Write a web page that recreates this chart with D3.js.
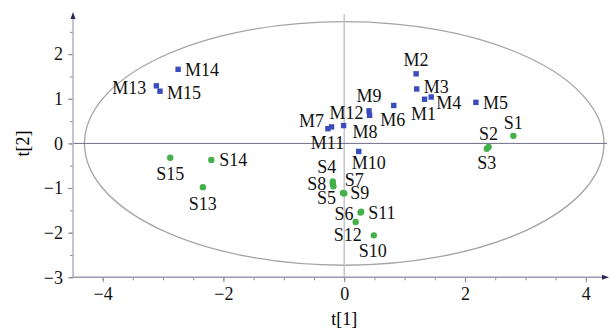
<!DOCTYPE html>
<html>
<head>
    <meta charset="utf-8">
    <script src="https://d3js.org/d3.v7.min.js"></script>
    <style>
        body { margin: 0; background: #fff; }
        svg text { font-family: "Liberation Serif", "DejaVu Serif", "Times New Roman", Times, serif; }
    </style>
</head>
<body>
    <div id="chart"></div>
    <script>
        // score values
        var mNames = ["M1", "M2", "M3", "M4", "M5", "M6", "M7", "M8", "M9", "M10", "M11", "M12", "M13", "M14", "M15"];
        var mT1 = [1.33, 1.19, 1.20, 1.44, 2.18, 0.82, -0.27, -0.01, 0.41, 0.24, -0.21, 0.42, -3.11, -2.75, -3.05];
        var mT2 = [0.99, 1.56, 1.22, 1.04, 0.92, 0.85, 0.33, 0.40, 0.73, -0.18, 0.37, 0.63, 1.29, 1.66, 1.17];

        var sNames = ["S1", "S2", "S3", "S4", "S5", "S6", "S7", "S8", "S9", "S10", "S11", "S12", "S13", "S14", "S15"];
        var sT1 = [2.80, 2.39, 2.36, -0.19, -0.02, 0.27, -0.19, -0.18, 0.00, 0.49, 0.28, 0.19, -2.34, -2.20, -2.88];
        var sT2 = [0.17, -0.08, -0.12, -0.85, -1.11, -1.55, -0.90, -0.96, -1.12, -2.06, -1.53, -1.76, -0.98, -0.37, -0.32];

        // Hotelling ellipse half axes
        var ellipseT1 = 4.3, ellipseT2 = 2.73;

        var xMajor = [-4, -2, 0, 2, 4];
        var yMajor = [-3, -2, -1, 0, 1, 2];

        var FONT = "'Liberation Serif', 'DejaVu Serif', 'Times New Roman', serif";

        // label placement: [anchor, dx, dy]
        var labelPos = {
            M1: ["middle", -1, 21], M2: ["middle", 0, -8], M3: ["start", 7, 4], M4: ["start", 5, 12],
            M5: ["start", 7, 7], M6: ["middle", -1, 21], M7: ["end", -4, -2], M8: ["start", 9, 12],
            M9: ["middle", 0, -9], M10: ["middle", 10, 18], M11: ["middle", -4, 22], M12: ["end", -6, 4],
            M13: ["end", -10, 8], M14: ["start", 7, 7], M15: ["start", 7, 8],
            S1: ["middle", 0, -7], S2: ["middle", 0, -7], S3: ["middle", 0, 20], S4: ["middle", -6, -8],
            S5: ["end", -7, 11], S6: ["end", -7, 7], S7: ["start", 12, 2], S8: ["end", -7, 4],
            S9: ["start", 6, 6], S10: ["middle", -1, 22], S11: ["start", 7, 7], S12: ["middle", -8, 19],
            S13: ["middle", 0, 23], S14: ["start", 8, 6], S15: ["middle", 0, 22]
        };

        var W = 610, H = 331;
        var svg = d3.select("#chart").append("svg")
            .attr("width", W).attr("height", H);

        var x = d3.scaleLinear().domain([-4.49, 4.35]).range([73, 607]);
        var y = d3.scaleLinear().domain([-3, 2.9]).range([277.3, 14]);

        // ellipse
        svg.append("ellipse")
            .attr("cx", x(0)).attr("cy", y(0))
            .attr("rx", x(ellipseT1) - x(0))
            .attr("ry", y(0) - y(ellipseT2))
            .attr("fill", "none")
            .attr("stroke", "#a4a4a4")
            .attr("stroke-width", 1.3);

        // zero lines
        svg.append("line")
            .attr("x1", x(0)).attr("x2", x(0))
            .attr("y1", y(2.9)).attr("y2", y(-3))
            .attr("stroke", "#c4c4cc").attr("stroke-width", 1.5);
        svg.append("line")
            .attr("x1", x(-4.49)).attr("x2", x(4.35))
            .attr("y1", y(0)).attr("y2", y(0))
            .attr("stroke", "#6e6e88").attr("stroke-width", 1);

        // axes: minor ticks every 0.5, labelled majors
        var minorX = d3.range(-4, 4.01, 0.5), minorY = d3.range(-3, 2.51, 0.5);

        var gx = svg.append("g").attr("transform", "translate(0," + y(-3) + ")");
        gx.call(d3.axisBottom(x).tickValues(minorX).tickSize(3).tickFormat(""));
        gx.select(".domain").remove();
        var gx2 = svg.append("g").attr("transform", "translate(0," + y(-3) + ")");
        gx2.call(d3.axisBottom(x).tickValues(xMajor).tickSize(5).tickPadding(5).tickFormat(d3.format("d")));
        gx2.select(".domain").remove();

        var gy = svg.append("g").attr("transform", "translate(" + x(-4.49) + ",0)");
        gy.call(d3.axisLeft(y).tickValues(minorY).tickSize(3).tickFormat(""));
        gy.select(".domain").remove();
        var gy2 = svg.append("g").attr("transform", "translate(" + x(-4.49) + ",0)");
        gy2.call(d3.axisLeft(y).tickValues(yMajor).tickSize(5).tickPadding(5).tickFormat(d3.format("d")));
        gy2.select(".domain").remove();

        svg.selectAll("g").attr("font-family", null);
        svg.selectAll(".tick line").attr("stroke", "#8a8a9a");
        svg.selectAll(".tick text")
            .style("font-family", FONT)
            .style("font-size", "18px")
            .attr("fill", "#111");

        // axis lines with arrows
        svg.append("line")
            .attr("x1", x(-4.49)).attr("x2", x(-4.49))
            .attr("y1", y(-3)).attr("y2", 16)
            .attr("stroke", "#b0b0c4").attr("stroke-width", 1.5);
        svg.append("line")
            .attr("x1", x(-4.49)).attr("x2", 604)
            .attr("y1", y(-3)).attr("y2", y(-3))
            .attr("stroke", "#9a9aaa").attr("stroke-width", 1.5);
        svg.append("path")
            .attr("d", "M" + x(-4.49) + ",12 l-2.5,7 l5,0 z")
            .attr("fill", "#2a2a50");
        svg.append("path")
            .attr("d", "M609," + y(-3) + " l-7,-2.5 l0,5 z")
            .attr("fill", "#2a2a50");

        // axis titles
        svg.append("text")
            .attr("x", x(0)).attr("y", 325)
            .attr("text-anchor", "middle")
            .style("font-family", FONT)
            .style("font-size", "18px")
            .text("t[1]");
        svg.append("text")
            .attr("transform", "translate(29," + y(0) + ") rotate(-90)")
            .attr("text-anchor", "middle")
            .style("font-family", FONT)
            .style("font-size", "18px")
            .text("t[2]");

        // points
        var mData = mNames.map(function (n, i) { return { name: n, t1: mT1[i], t2: mT2[i] }; });
        var sData = sNames.map(function (n, i) { return { name: n, t1: sT1[i], t2: sT2[i] }; });

        svg.append("g").selectAll("rect")
            .data(mData).enter().append("rect")
            .attr("x", function (d) { return x(d.t1) - 2.7; })
            .attr("y", function (d) { return y(d.t2) - 2.7; })
            .attr("width", 5.4).attr("height", 5.4)
            .attr("fill", "#3a4cbd");

        svg.append("g").selectAll("circle")
            .data(sData).enter().append("circle")
            .attr("cx", function (d) { return x(d.t1); })
            .attr("cy", function (d) { return y(d.t2); })
            .attr("r", 3.2)
            .attr("fill", "#45b04a");

        // labels
        svg.append("g").selectAll("text")
            .data(mData.concat(sData)).enter().append("text")
            .attr("x", function (d) { return x(d.t1) + labelPos[d.name][1]; })
            .attr("y", function (d) { return y(d.t2) + labelPos[d.name][2]; })
            .attr("text-anchor", function (d) { return labelPos[d.name][0]; })
            .style("font-family", FONT)
            .style("font-size", "18px")
            .attr("fill", "#111")
            .text(function (d) { return d.name; });
    </script>
</body>
</html>
